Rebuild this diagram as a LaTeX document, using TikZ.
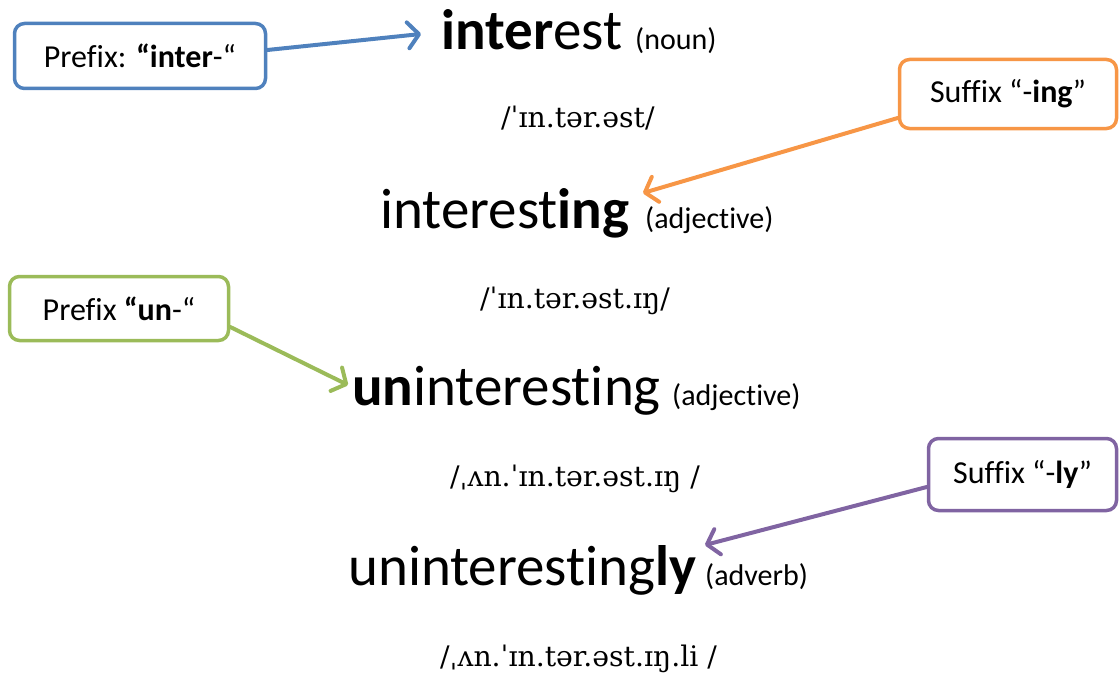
\documentclass[tikz,border=0pt]{standalone}
\usepackage{fontspec}
\setmainfont{Carlito}[Ligatures={NoCommon}]
\newfontfamily\ipafont{DejaVu Serif}
\usetikzlibrary{arrows.meta}
\definecolor{cblue}{HTML}{4F81BD}
\definecolor{corange}{HTML}{F79646}
\definecolor{cgreen}{HTML}{9BBB59}
\definecolor{cpurple}{HTML}{8064A2}
\begin{document}
\begin{tikzpicture}[x=1pt,y=-1pt,
  box/.style={draw=#1, line width=3.5pt, rounded corners=10pt, fill=white, inner sep=0pt,
    font=\fontsize{32}{36}\selectfont},
  word/.style={inner sep=0pt, anchor=base west, font=\fontsize{57}{60}\selectfont},
  poslabel/.style={inner sep=0pt, anchor=base west, font=\fontsize{30}{34}\selectfont},
  ipa/.style={inner sep=0pt, anchor=base west, font=\fontsize{28.3}{32}\ipafont},
  conn/.style={draw=#1, line width=4pt, line cap=round,
    -{Straight Barb[length=11pt,width=26pt,line cap=round,line join=round]}},
]
\useasboundingbox (0,0) rectangle (1120,677);

% words
\node[word] (w1) at (441,50) {\textbf{inter}est};
\node[poslabel]  (p1) at (635,50) {(noun)};
\node[ipa]  (i1) at (501,128) {/ˈɪn.tər.əst/};

\node[word] (w2) at (380,228) {interest\textbf{ing}};
\node[poslabel]  (p2) at (645,228) {(adjective)};
\node[ipa]  (i2) at (480,308) {/ˈɪn.tər.əst.ɪŋ/};

\node[word] (w3) at (352,405) {\textbf{un}interesting};
\node[poslabel]  (p3) at (672,405) {(adjective)};
\node[ipa]  (i3) at (450,486) {/ˌʌn.ˈɪn.tər.əst.ɪŋ /};

\node[word] (w4) at (348,585) {uninteresting\textbf{ly}};
\node[poslabel]  (p4) at (705,585) {(adverb)};
\node[ipa]  (i4) at (440,666) {/ˌʌn.ˈɪn.tər.əst.ɪŋ.li /};

% boxes
\node[box=cblue, minimum width=251pt, minimum height=65pt] (b1) at (140,56) {Prefix: \textbf{“inter}-“};
\node[box=corange, minimum width=217pt, minimum height=69pt] (b2) at (1008,94) {Suffix “-\textbf{ing}”};
\node[box=cgreen, minimum width=219pt, minimum height=64pt] (b3) at (119,308.5) {Prefix \textbf{“un}-“};
\node[box=cpurple, minimum width=188pt, minimum height=72pt] (b4) at (1022.5,474.5) {Suffix “-\textbf{ly}”};

% arrow tips
\coordinate (t1) at (421,34);
\coordinate (t2) at (643,193);
\coordinate (t3) at (348,385);
\coordinate (t4) at (705,545);

\draw[conn=cblue] ([yshift=6pt]b1.east) -- (t1);
\draw[conn=corange] ([yshift=-24pt]b2.west) -- (t2);
\draw[conn=cgreen] ([yshift=-18.5pt]b3.east) -- (t3);
\draw[conn=cpurple] ([yshift=-12.5pt]b4.west) -- (t4);
\end{tikzpicture}
\end{document}
